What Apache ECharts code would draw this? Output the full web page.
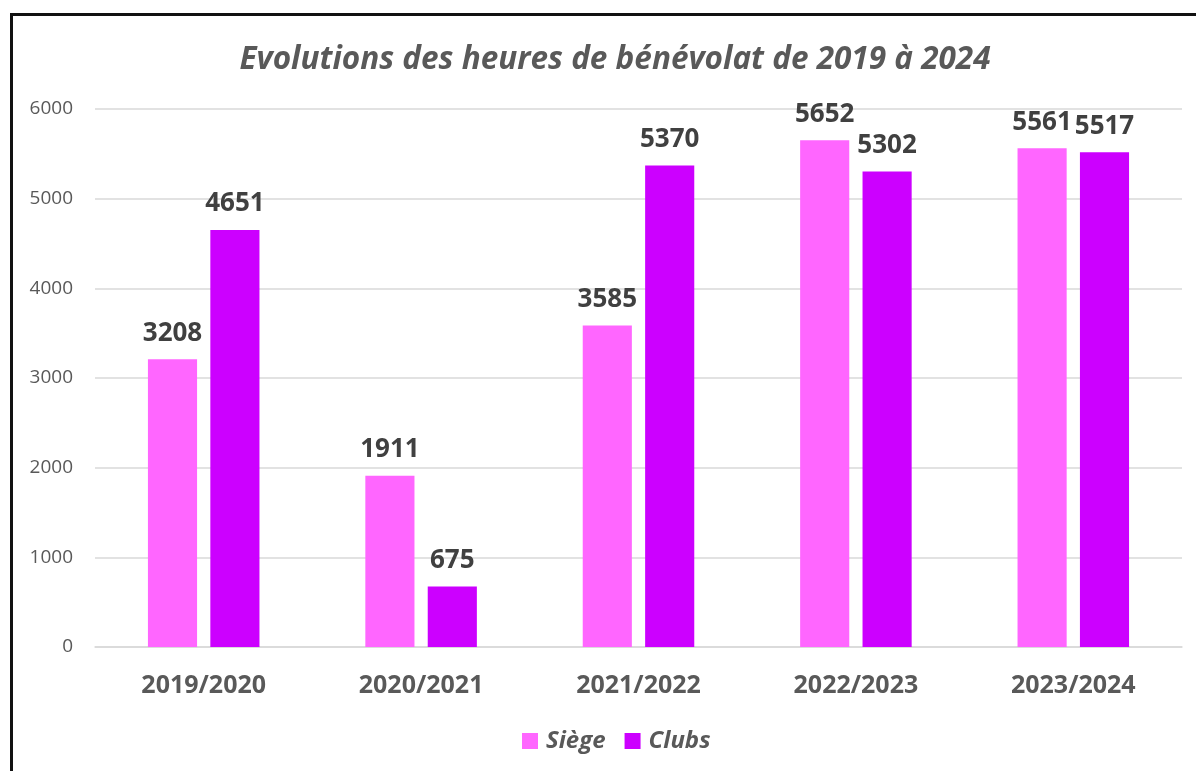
<!DOCTYPE html>
<html><head><meta charset="utf-8">
<script src="https://cdn.jsdelivr.net/npm/echarts@6/dist/echarts.min.js"></script>
<style>html,body{margin:0;padding:0;background:#fff}#c{width:1196px;height:771px}</style>
</head><body><div id="c"></div>
<script>
const categories = ['2019/2020','2020/2021','2021/2022','2022/2023','2023/2024'];
const siege = [3208, 1911, 3585, 5652, 5561];
const clubs = [4651, 675, 5370, 5302, 5517];
const yTicks = [0, 1000, 2000, 3000, 4000, 5000, 6000];
const font = '"Open Sans", "Liberation Sans", sans-serif';
const chart = echarts.init(document.getElementById('c'));
const lbl = {show:true, position:'top', distance:13, fontFamily:font, fontWeight:'bold', fontSize:26, color:'#404040'};
chart.setOption({
  animation:false,
  graphic:[{type:'rect', shape:{x:11.5,y:14.5,width:1200,height:800}, style:{fill:'none', stroke:'#111', lineWidth:3}, silent:true}],
  title:{text:'Evolutions des heures de bénévolat de 2019 à 2024', left:610, textAlign:'center', top:39,
    textStyle:{fontFamily:font, fontStyle:'italic', fontWeight:'bold', fontSize:31.5, color:'#595959'}},
  legend:{bottom:13, left:517, itemWidth:16, itemHeight:16, itemGap:19, icon:'rect',
    textStyle:{fontFamily:font, fontStyle:'italic', fontWeight:'bold', fontSize:24, color:'#595959', padding:[0,0,0,3]}},
  grid:{left:95, right:14, top:109, bottom:124, containLabel:false},
  xAxis:{type:'category', data:categories, axisTick:{show:false},
    axisLine:{lineStyle:{color:'#d9d9d9', width:1.5}},
    axisLabel:{fontFamily:font, fontWeight:'bold', fontSize:25, color:'#595959', margin:26}},
  yAxis:{type:'value', min:yTicks[0], max:yTicks[yTicks.length-1], interval:1000,
    axisLine:{show:false}, axisTick:{show:false},
    splitLine:{lineStyle:{color:'#d9d9d9', width:1.5}},
    axisLabel:{fontFamily:font, fontSize:19, color:'#595959', margin:22, formatter:v=>String(v)}},
  series:[
    {name:'Siège', type:'bar', data:siege, barWidth:'22.6%', barGap:'27%', itemStyle:{color:'#FF66FF'}, label:lbl},
    {name:'Clubs', type:'bar', data:clubs, barWidth:'22.6%', barGap:'27%', itemStyle:{color:'#CC00FF'}, label:lbl}
  ]
});
</script></body></html>
